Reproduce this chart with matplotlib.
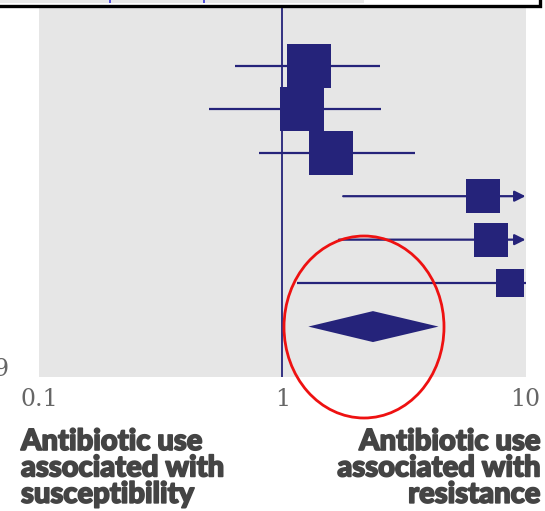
import numpy as np
import matplotlib
matplotlib.use("Agg")
import matplotlib.pyplot as plt
import matplotlib.patheffects as pe
from matplotlib.patches import Ellipse, Rectangle, Polygon, FancyArrowPatch

# Study estimates (odds ratios with 95% CI) and pooled result
estimates = [1.29, 1.21, 1.59, 6.70, 7.22, 8.64]
ci_low = [0.64, 0.50, 0.80, 1.78, 1.71, 1.15]
ci_high = [2.52, 2.54, 3.53, 14.0, 14.0, 10.0]
weights = [19.5, 18.5, 19.5, 11.0, 11.0, 7.6]
pooled = (2.36, 1.28, 4.39)  # estimate, low, high
xticks = [0.1, 1, 10]
xtick_labels = ["0.1", "1", "10"]
left_note = "Antibiotic use\nassociated with\nsusceptibility"
right_note = "Antibiotic use\nassociated with\nresistance"

W, H = 545, 511
navy = "#25237a"
fig = plt.figure(figsize=(W / 100, H / 100), dpi=100)
fig.patch.set_facecolor("white")

ax = fig.add_axes([39 / W, 1 - 377 / H, 486.5 / W, 369 / H])
ax.set_facecolor("#e6e6e6")
ax.set_xscale("log")
ax.set_xlim(0.1, 10)
ax.set_ylim(8.16, -0.33)
for s in ax.spines.values():
    s.set_visible(False)
ax.set_yticks([])
ax.set_xticks(xticks)
ax.set_xticklabels(xtick_labels, family="DejaVu Serif", fontsize=17, color="#666666")
ax.xaxis.set_minor_locator(matplotlib.ticker.NullLocator())
ax.tick_params(axis="x", length=0, pad=8)

# Line of no effect
ax.axvline(1, color=navy, lw=1.3, zorder=2)

rows = np.arange(1, len(estimates) + 1)
for y, est, lo, hi, w in zip(rows, estimates, ci_low, ci_high, weights):
    if hi > 10:
        arr = FancyArrowPatch((lo, y), (10, y), arrowstyle="-|>", mutation_scale=16,
                              color=navy, lw=1.6, shrinkA=0, shrinkB=0, zorder=3)
        ax.add_patch(arr)
    else:
        ax.plot([lo, min(hi, 10)], [y, y], color=navy, lw=1.6, zorder=3,
                solid_capstyle="butt")
    side = 10 * np.sqrt(w) * 0.72
    ax.plot([est], [y], marker="s", markersize=side, color=navy,
            markeredgewidth=0, zorder=4)

# Pooled estimate diamond
py = len(estimates) + 1
pe_, pl, ph = pooled
ax.add_patch(Polygon([[pl, py], [pe_, py - 0.356], [ph, py], [pe_, py + 0.356]],
                     closed=True, color=navy, lw=0, zorder=4))

# Panel frame above
fig.patches.append(Rectangle((-0.01, 1 - 6 / H), 0.01 + 540 / W, 0.2,
                             transform=fig.transFigure, facecolor="white",
                             edgecolor="black", lw=2.4, zorder=1))
fig.patches.append(Rectangle((0, 1 - 3 / H), 364 / W, 3 / H,
                             transform=fig.transFigure, facecolor="#e8e8e8",
                             edgecolor="none", zorder=2))
for xp in (109, 203):
    fig.patches.append(Rectangle((xp / W, 1 - 3 / H), 2 / W, 3 / H,
                                 transform=fig.transFigure, facecolor="#5555dd",
                                 edgecolor="none", zorder=3))

# Cropped year label at left
fig.text(9 / W, 1 - 369 / H, "9", ha="right", va="center",
         family="DejaVu Serif", fontsize=17, color="#666666")

# Direction notes
heavy = [pe.withStroke(linewidth=1.2, foreground="#444444")]
fig.text(21 / W, 1 - 429 / H, left_note, ha="left", va="top", fontsize=21,
         family="Lato", weight="black", color="#444444", linespacing=1.02,
         path_effects=heavy)
fig.text(540 / W, 1 - 429 / H, right_note, ha="right", va="top", fontsize=21,
         family="Lato", weight="black", color="#444444", linespacing=1.02,
         multialignment="right", path_effects=heavy)

# Highlight ring around pooled estimate
fig.patches.append(Ellipse((364 / W, 1 - 327 / H), 160 / W, 182 / H,
                           transform=fig.transFigure, fill=False,
                           edgecolor="#ee1111", lw=2.0, zorder=10))

fig.savefig("out.png", dpi=100)
